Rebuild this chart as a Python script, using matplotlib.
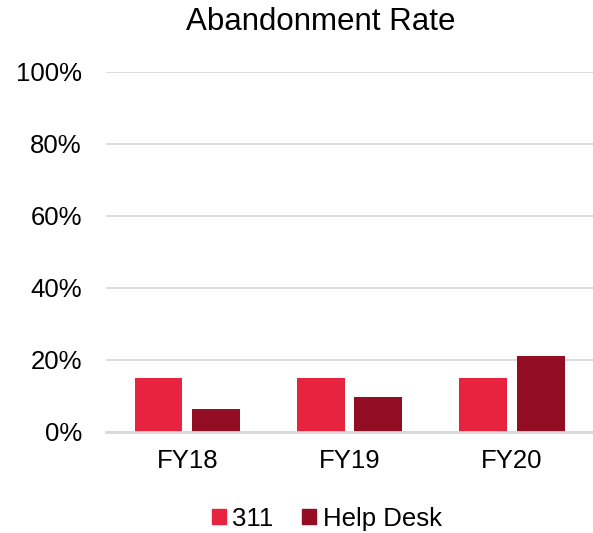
import numpy as np
import matplotlib.pyplot as plt
from matplotlib.patches import Patch

plt.rcParams['font.family'] = ['Liberation Sans', 'DejaVu Sans']

years = ['FY18', 'FY19', 'FY20']
rate_311 = [15.0, 15.0, 15.0]
rate_helpdesk = [6.4, 9.8, 21.0]
yticks = [0, 20, 40, 60, 80, 100]

c_311 = '#E8233F'
c_help = '#930E22'
grid_c = '#D9D9D9'

fig = plt.figure(figsize=(5.93, 5.33), dpi=100)
ax = fig.add_axes([0.179, 0.1895, 0.821, 0.6755])

x = np.arange(len(years))
width = 0.295
off = width / 2 + 0.03
ax.bar(x - off, rate_311, width, color=c_311, zorder=3)
ax.bar(x + off, rate_helpdesk, width, color=c_help, zorder=3)

ax.set_xlim(-0.5, 2.5)
ax.set_ylim(0, 100)
ax.set_yticks(yticks)
ax.set_yticklabels([f'{v}%' for v in yticks])
ax.set_xticks(x)
ax.set_xticklabels(years)
ax.tick_params(axis='both', length=0, labelsize=18.5, colors='black')
ax.tick_params(axis='y', pad=17.5)
ax.tick_params(axis='x', pad=12)

ax.grid(axis='y', color=grid_c, linewidth=1.3, zorder=0)
for s in ['left', 'right', 'top']:
    ax.spines[s].set_visible(False)
ax.spines['bottom'].set_color(grid_c)
ax.spines['bottom'].set_linewidth(2)
ax.spines['bottom'].set_zorder(4)

fig.text(0.541, 0.958, 'Abandonment Rate', ha='center', va='center', fontsize=22.5)

handles = [Patch(color=c_311, label='311'), Patch(color=c_help, label='Help Desk')]
fig.legend(handles=handles, loc='center', bbox_to_anchor=(0.551, 0.027), ncol=2,
           frameon=False, fontsize=18.5, handlelength=0.55, handleheight=0.55,
           handletextpad=0.25, columnspacing=1.1)

fig.savefig('out.png', dpi=100)
